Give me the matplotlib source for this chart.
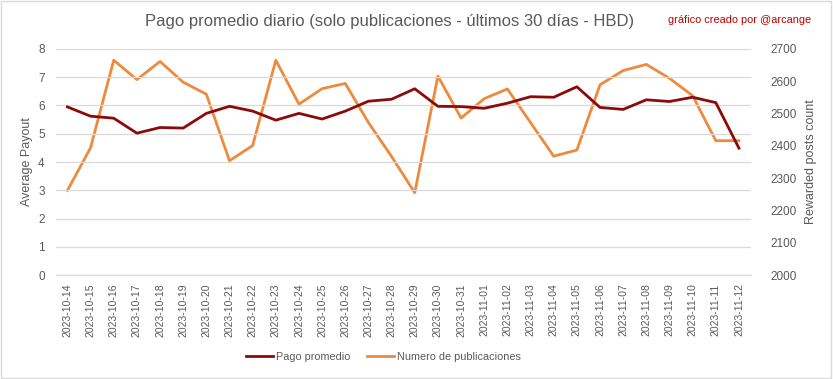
import matplotlib.pyplot as plt
from matplotlib.patches import Rectangle

# fechas y series
fechas = [
    "2023-10-14", "2023-10-15", "2023-10-16", "2023-10-17", "2023-10-18",
    "2023-10-19", "2023-10-20", "2023-10-21", "2023-10-22", "2023-10-23",
    "2023-10-24", "2023-10-25", "2023-10-26", "2023-10-27", "2023-10-28",
    "2023-10-29", "2023-10-30", "2023-10-31", "2023-11-01", "2023-11-02",
    "2023-11-03", "2023-11-04", "2023-11-05", "2023-11-06", "2023-11-07",
    "2023-11-08", "2023-11-09", "2023-11-10", "2023-11-11", "2023-11-12",
]
pago_promedio = [
    5.95, 5.62, 5.55, 5.02, 5.22, 5.20, 5.72, 5.97, 5.80, 5.48,
    5.72, 5.52, 5.80, 6.15, 6.22, 6.59, 5.97, 5.96, 5.90, 6.08,
    6.31, 6.29, 6.66, 5.93, 5.86, 6.20, 6.14, 6.29, 6.10, 4.49,
]
num_publicaciones = [
    2262, 2394, 2665, 2605, 2661, 2597, 2560, 2354, 2401, 2665,
    2529, 2577, 2593, 2472, 2367, 2255, 2616, 2486, 2546, 2576,
    2472, 2368, 2387, 2589, 2633, 2652, 2609, 2555, 2416, 2416,
]

ROJO = "#8B0A0A"
NARANJA = "#EE8A3C"
GRIS = "#595959"

plt.rcParams["font.family"] = ["Liberation Sans", "DejaVu Sans"]

fig = plt.figure(figsize=(8.33, 3.79), dpi=100)
ax = fig.add_axes([0.067, 0.274, 0.834, 0.597])
ax2 = ax.twinx()

x = range(len(fechas))
ax.plot(x, pago_promedio, color=ROJO, linewidth=2, zorder=3)
ax2.plot(x, num_publicaciones, color=NARANJA, linewidth=2, zorder=2)
ax.set_zorder(ax2.get_zorder() + 1)
ax.patch.set_visible(False)

ax.set_xlim(-0.5, len(fechas) - 0.5)
ax.set_ylim(0, 8)
ax2.set_ylim(2000, 2700)
ax.set_yticks(range(0, 9))
ax2.set_yticks(range(2000, 2701, 100))
ax.set_xticks(list(x))

ax.grid(axis="y", color="#D9D9D9", linewidth=0.9)
ax.set_axisbelow(True)
for a in (ax, ax2):
    for s in a.spines.values():
        s.set_visible(False)
    a.tick_params(length=0, labelsize=8.5, colors=GRIS, pad=8)
ax2.tick_params(pad=14)
ax.tick_params(axis="x", pad=6)
ax.set_xticklabels(fechas, rotation=90, fontsize=7.5, color=GRIS)
ax.spines["bottom"].set_visible(True)
ax.spines["bottom"].set_color("#D9D9D9")

ax.set_ylabel("Average Payout", color=GRIS, fontsize=9)
ax2.set_ylabel("Rewarded posts count", color=GRIS, fontsize=9, labelpad=6)

fig.text(0.468, 0.942, "Pago promedio diario (solo publicaciones - últimos 30 días - HBD)",
         ha="center", va="center", fontsize=12, color=GRIS)
fig.text(0.888, 0.947, "gráfico creado por @arcange", ha="center", va="center",
         fontsize=7.9, color="#C00000")

h1, = ax.plot([], [], color=ROJO, linewidth=2, label="Pago promedio")
h2, = ax.plot([], [], color=NARANJA, linewidth=2, label="Numero de publicaciones")
fig.legend(handles=[h1, h2], loc="center", bbox_to_anchor=(0.46, 0.058), ncol=2,
           frameon=False, fontsize=7.8, labelcolor=GRIS, handlelength=2.5,
           columnspacing=1.5, handletextpad=0.3)

fig.patches.append(Rectangle((0.001, 0.002), 0.997, 0.996, transform=fig.transFigure,
                             fill=False, edgecolor="#D9D9D9", linewidth=1))

fig.savefig("out.png", dpi=100)
